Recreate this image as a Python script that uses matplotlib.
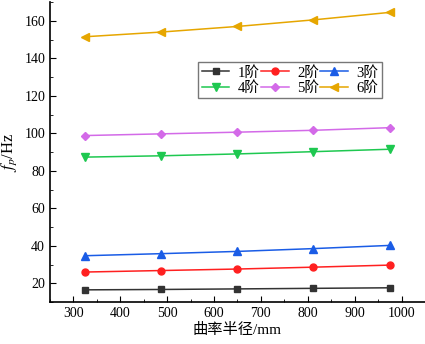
import matplotlib
matplotlib.use('Agg')
import matplotlib.pyplot as plt
from matplotlib.ticker import MultipleLocator

plt.rcParams['font.family'] = ['Liberation Serif', 'Noto Sans CJK SC']
plt.rcParams['mathtext.fontset'] = 'stix'

# curvature radius (mm)
radius = [325, 487, 650, 812, 975]

# natural frequencies per mode (Hz)
mode1 = [16.5, 16.7, 17.0, 17.3, 17.6]
mode2 = [26.0, 26.8, 27.6, 28.6, 29.7]
mode3 = [34.7, 35.8, 37.0, 38.5, 40.2]
mode4 = [87.3, 88.0, 89.0, 90.2, 91.5]
mode5 = [98.8, 99.7, 100.6, 101.6, 103.0]
mode6 = [151.5, 154.0, 157.0, 160.5, 164.5]

labels = ['1阶', '2阶', '3阶', '4阶', '5阶', '6阶']

fig = plt.figure(figsize=(4.25, 3.44), dpi=100)
ax = fig.add_axes([0.1176, 0.122, 0.8824, 0.872])

ax.plot(radius, mode1, color='#333333', marker='s', markersize=4.5, lw=1.1, label=labels[0])
ax.plot(radius, mode2, color='#ff2020', marker='o', markersize=5, lw=1.1, label=labels[1])
ax.plot(radius, mode3, color='#1a5ce6', marker='^', markersize=5.5, lw=1.1, label=labels[2])
ax.plot(radius, mode4, color='#1ec850', marker='v', markersize=5.5, lw=1.1, label=labels[3])
ax.plot(radius, mode5, color='#d36ae8', marker='D', markersize=4.5, lw=1.1, label=labels[4])
ax.plot(radius, mode6, color='#e6a600', marker='<', markersize=5.5, lw=1.1, label=labels[5])

ax.set_xlim(250, 1050)
ax.set_ylim(10, 170)
ax.xaxis.set_minor_locator(MultipleLocator(50))
ax.yaxis.set_minor_locator(MultipleLocator(10))
ax.set_xticks(range(300, 1001, 100))
ax.set_yticks(range(20, 161, 20))
ax.tick_params(which='both', direction='in', labelsize=10)
ax.tick_params(which='major', length=4)
ax.tick_params(which='minor', length=2.5)
ax.spines['top'].set_visible(False)
ax.spines['right'].set_visible(False)
ax.spines['left'].set_linewidth(1.2)
ax.spines['bottom'].set_linewidth(1.2)

ax.set_xlabel('曲率半径/mm', fontsize=11, labelpad=2)
ax.set_ylabel('$f_p$/Hz', fontsize=12, labelpad=4)

# row-wise legend order
h, l = ax.get_legend_handles_labels()
order = [0, 3, 1, 4, 2, 5]
ax.legend([h[i] for i in order], [l[i] for i in order], ncol=3, loc='upper left',
          bbox_to_anchor=(0.395, 0.80), fontsize=10.5,
          frameon=True, fancybox=False, edgecolor='#555555', handlelength=1.9,
          columnspacing=0.05, handletextpad=0.6, borderpad=0.25, labelspacing=0.1,
          borderaxespad=0)

fig.savefig('out.png', dpi=100)
